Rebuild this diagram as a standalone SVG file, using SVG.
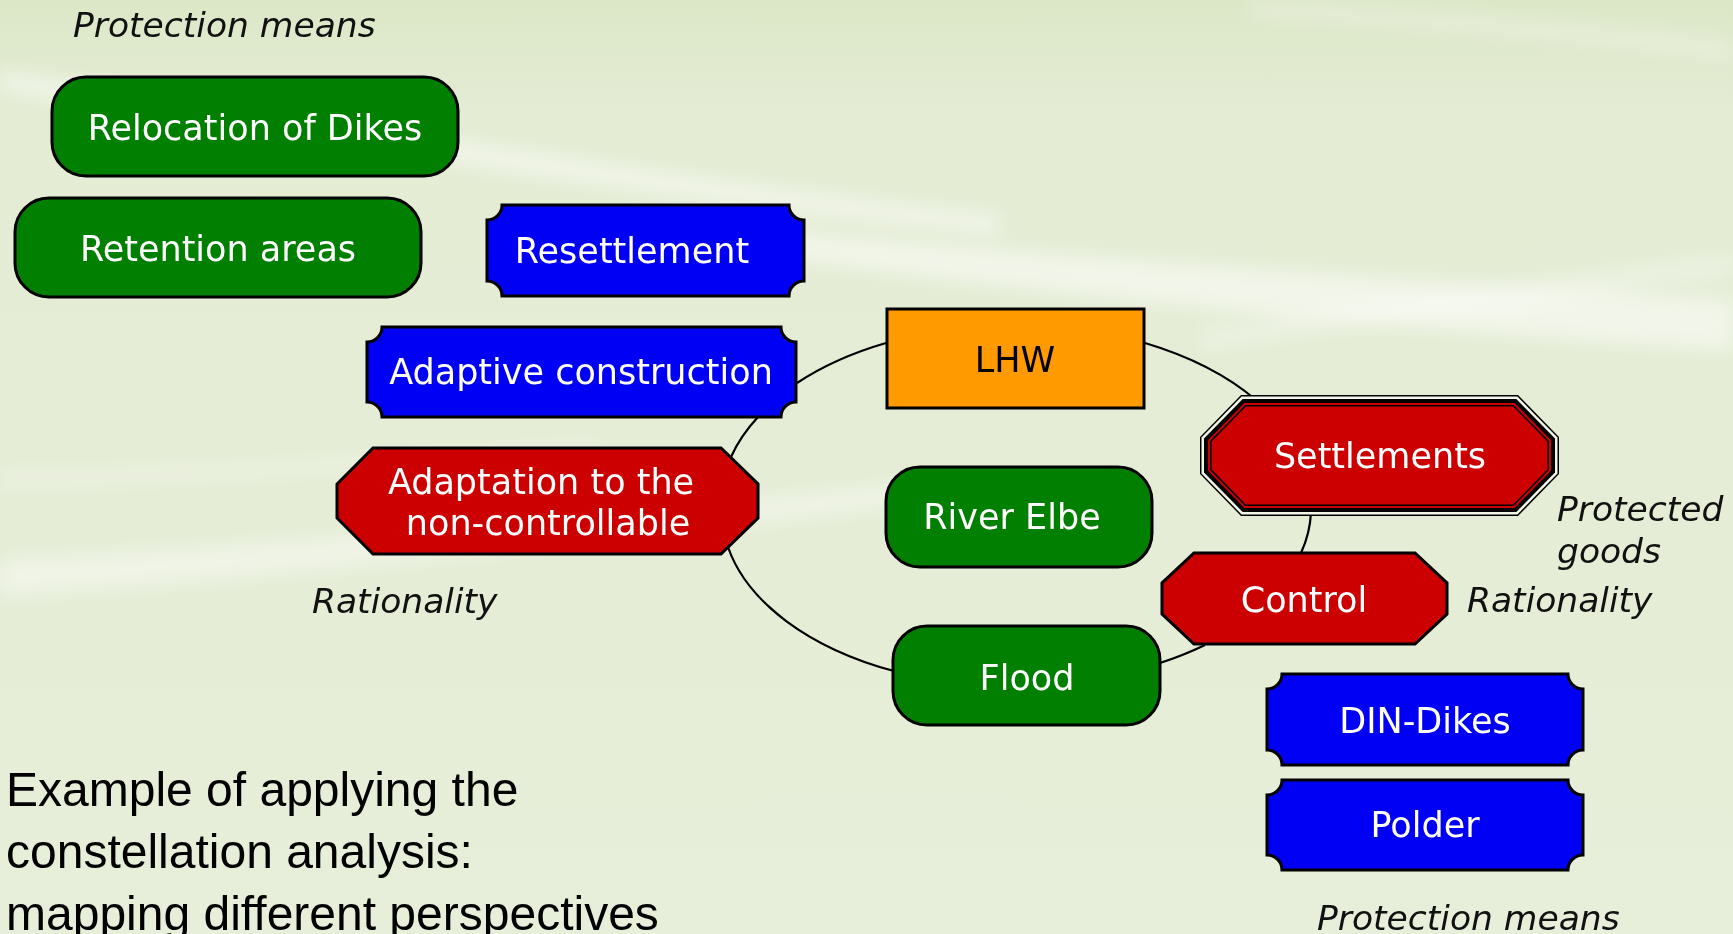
<svg xmlns="http://www.w3.org/2000/svg" width="1733" height="934" viewBox="0 0 1733 934">
  <defs>
    <linearGradient id="bg" x1="0" y1="0" x2="0" y2="1">
      <stop offset="0" stop-color="#dce7c7"/>
      <stop offset="0.12" stop-color="#e4ecd4"/>
      <stop offset="1" stop-color="#e7eed9"/>
    </linearGradient>
    <filter id="soft" x="-10%" y="-50%" width="120%" height="200%">
      <feGaussianBlur stdDeviation="9"/>
    </filter>
    <style>
      .lbl { font-family: "DejaVu Sans", Verdana, sans-serif; font-size: 35px; fill: #ffffff; text-anchor: middle; }
      .dark { fill: #000000; }
      .note { font-family: "DejaVu Sans", Verdana, sans-serif; font-size: 34.5px; font-style: italic; fill: #111111; }
      .title { font-family: "Liberation Sans", Arial, sans-serif; font-size: 48px; fill: #000000; }
      .green { fill: #007f00; stroke: #000; stroke-width: 3; }
      .blue { fill: #0000f4; stroke: #000; stroke-width: 3; }
      .red { fill: #cc0000; stroke: #000; stroke-width: 3; }
      .orange { fill: #ff9a00; stroke: #000; stroke-width: 3; }
      .edge { fill: none; stroke: #000; stroke-width: 2.2; }
    </style>
  </defs>

  <!-- background with soft light streaks -->
  <rect x="0" y="0" width="1733" height="934" fill="url(#bg)"/>
  <g fill="#ffffff" filter="url(#soft)">
    <path d="M0 70 C 300 110, 600 170, 1000 215 L 1000 235 C 600 195, 300 135, 0 92 Z" opacity="0.45"/>
    <path d="M760 230 C 1100 260, 1400 280, 1733 300 L 1733 350 C 1400 330, 1100 300, 760 255 Z" opacity="0.5"/>
    <path d="M1200 330 C 1400 300, 1600 270, 1733 255 L 1733 275 C 1600 292, 1400 322, 1200 350 Z" opacity="0.3"/>
    <path d="M0 560 C 300 545, 600 515, 950 480 L 950 500 C 600 540, 300 575, 0 595 Z" opacity="0.4"/>
    <path d="M0 470 C 200 470, 400 455, 600 440 L 600 452 C 400 468, 200 484, 0 486 Z" opacity="0.25"/>
    <path d="M1250 0 C 1450 10, 1600 25, 1733 40 L 1733 60 C 1600 45, 1450 30, 1250 18 Z" opacity="0.25"/>
  </g>

  <!-- connectors along the constellation ring -->
  <g id="connectors">
    <path class="edge" d="M731 457 A 291 175 0 0 1 758 417"/>
    <path class="edge" d="M797 383 A 291 175 0 0 1 886 343"/>
    <path class="edge" d="M1145 343 A 300 175 0 0 1 1256 400"/>
    <path class="edge" d="M1311 512 A 300 175 0 0 1 1301 553"/>
    <path class="edge" d="M1205 645 A 300 175 0 0 1 1160 663"/>
    <path class="edge" d="M894 671 A 291 175 0 0 1 728 547"/>
  </g>

  <!-- protection means (upper left) -->
  <text class="note" x="73" y="37">Protection means</text>
  <g id="relocation-of-dikes">
    <rect class="green" x="52" y="77" width="406" height="99" rx="34"/>
    <text class="lbl" x="255" y="140">Relocation of Dikes</text>
  </g>
  <g id="retention-areas">
    <rect class="green" x="15" y="198" width="406" height="99" rx="34"/>
    <text class="lbl" x="218" y="261">Retention areas</text>
  </g>

  <g id="resettlement">
    <path class="blue" d="M502 205 H789 A15 15 0 0 0 804 220 V281 A15 15 0 0 0 789 296 H502 A15 15 0 0 0 487 281 V220 A15 15 0 0 0 502 205 Z"/>
    <text class="lbl" x="632" y="263">Resettlement</text>
  </g>
  <g id="adaptive-construction">
    <path class="blue" d="M382 327 H781 A15 15 0 0 0 796 342 V402 A15 15 0 0 0 781 417 H382 A15 15 0 0 0 367 402 V342 A15 15 0 0 0 382 327 Z"/>
    <text class="lbl" x="581" y="384">Adaptive construction</text>
  </g>

  <g id="adaptation">
    <polygon class="red" points="373,448 721,448 758,484 758,518 721,554 373,554 337,518 337,484"/>
    <text class="lbl" x="541" y="494">Adaptation to the</text>
    <text class="lbl" x="548" y="535">non-controllable</text>
  </g>
  <text class="note" x="312" y="613">Rationality</text>

  <g id="lhw">
    <rect class="orange" x="887" y="309" width="257" height="99"/>
    <text class="lbl dark" x="1015" y="372">LHW</text>
  </g>
  <g id="river-elbe">
    <rect class="green" x="886" y="467" width="266" height="100" rx="34"/>
    <text class="lbl" x="1012" y="529">River Elbe</text>
  </g>
  <g id="flood">
    <rect class="green" x="893" y="626" width="267" height="99" rx="34"/>
    <text class="lbl" x="1027" y="690">Flood</text>
  </g>

  <!-- protected good with layered outline -->
  <g id="settlements">
    <polygon fill="#000" points="1241,395 1518,395 1559,437 1559,474 1518,516 1241,516 1200,474 1200,437"/>
    <polygon fill="#f4f6ea" points="1241.6,396.5 1517.4,396.5 1557.5,437.6 1557.5,473.4 1517.4,514.5 1241.6,514.5 1201.5,473.4 1201.5,437.6"/>
    <polygon fill="#000" points="1242.7,399 1516.3,399 1555,438.6 1555,472.4 1516.3,512 1242.7,512 1204,472.4 1204,438.6"/>
    <polygon fill="#cc0000" points="1244.4,403 1514.6,403 1551,440.3 1551,470.7 1514.6,508 1244.4,508 1208,470.7 1208,440.3"/>
    <polygon fill="#000" points="1245.2,405 1513.8,405 1549,441.1 1549,469.9 1513.8,506 1245.2,506 1210,469.9 1210,441.1"/>
    <polygon fill="#cc0000" points="1245.9,406.5 1513.1,406.5 1547.5,441.7 1547.5,469.3 1513.1,504.5 1245.9,504.5 1211.5,469.3 1211.5,441.7"/>
    <text class="lbl" x="1380" y="468">Settlements</text>
  </g>
  <text class="note" x="1557" y="521">Protected</text>
  <text class="note" x="1557" y="563">goods</text>

  <g id="control">
    <polygon class="red" points="1194,553 1415,553 1447,583 1447,614 1415,644 1194,644 1162,614 1162,583"/>
    <text class="lbl" x="1304" y="612">Control</text>
  </g>
  <text class="note" x="1467" y="612">Rationality</text>

  <!-- protection means (lower right) -->
  <g id="din-dikes">
    <path class="blue" d="M1282 674 H1568 A15 15 0 0 0 1583 689 V750 A15 15 0 0 0 1568 765 H1282 A15 15 0 0 0 1267 750 V689 A15 15 0 0 0 1282 674 Z"/>
    <text class="lbl" x="1425" y="733">DIN-Dikes</text>
  </g>
  <g id="polder">
    <path class="blue" d="M1282 780 H1568 A15 15 0 0 0 1583 795 V855 A15 15 0 0 0 1568 870 H1282 A15 15 0 0 0 1267 855 V795 A15 15 0 0 0 1282 780 Z"/>
    <text class="lbl" x="1425" y="837">Polder</text>
  </g>
  <text class="note" x="1317" y="930">Protection means</text>

  <!-- caption -->
  <text class="title" x="6" y="806">Example of applying the</text>
  <text class="title" x="6" y="868">constellation analysis:</text>
  <text class="title" x="6" y="930">mapping different perspectives</text>
</svg>
